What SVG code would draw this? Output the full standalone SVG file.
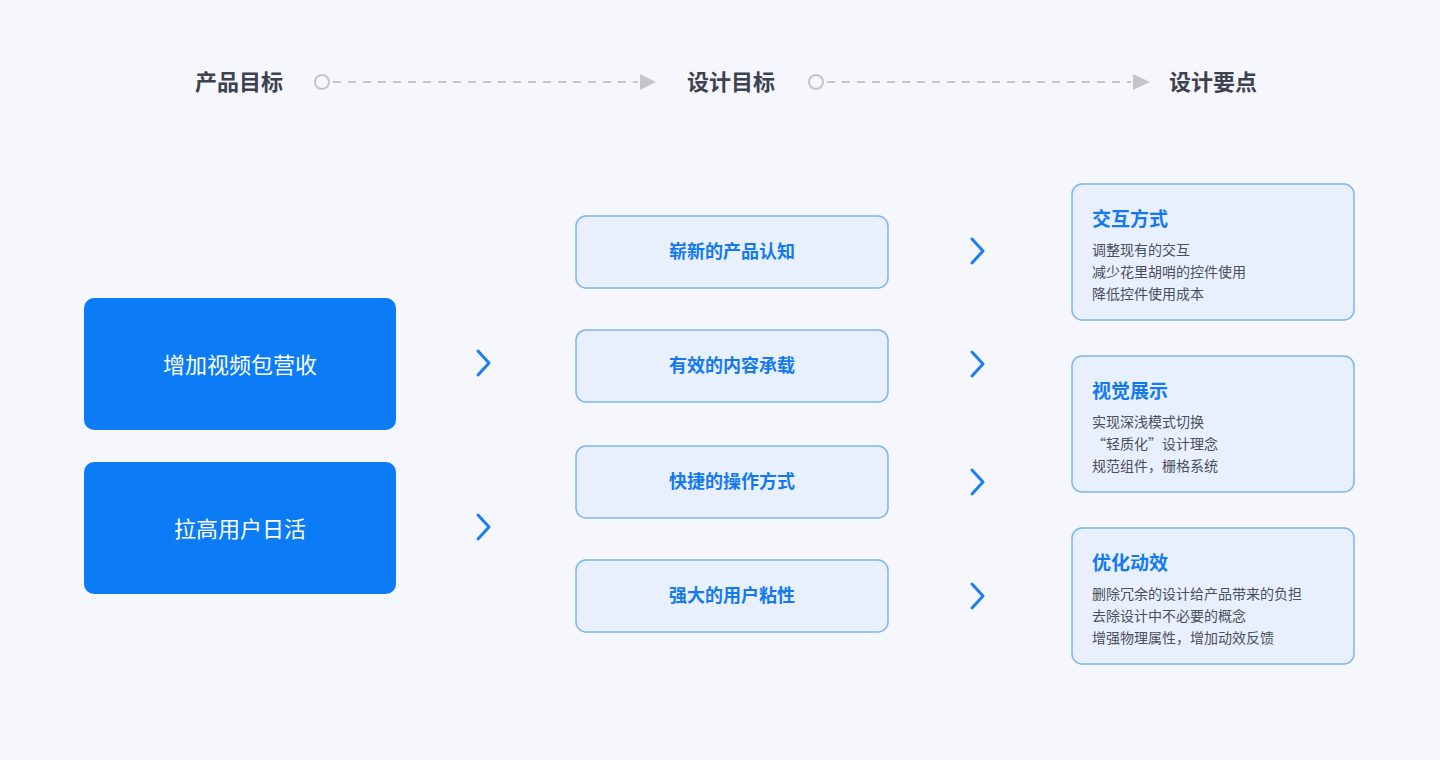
<svg xmlns="http://www.w3.org/2000/svg" width="1440" height="760" viewBox="0 0 1440 760">
<style>
text{font-family:"Noto Sans CJK SC","Noto Sans",sans-serif}
.hd{font-size:22px;font-weight:700;fill:#3d4250;text-anchor:middle}
.dash{stroke:#c3c5cc;stroke-width:2;stroke-dasharray:8 7;fill:none}
.ring{fill:#f5f7fd;stroke:#c3c5cc;stroke-width:2}
.tri{fill:#c3c5cc}
.big{fill:#0b7cf6}
.bt{font-size:22px;fill:#fff;text-anchor:middle}
.mid{fill:#e8f0fd;stroke:#7fb4f0;stroke-width:1.5}
.mt{font-size:18px;font-weight:700;fill:#1479ee;text-anchor:middle}
.ch{fill:none;stroke:#1a7ff5;stroke-width:3;stroke-linecap:round;stroke-linejoin:round}
.rt{font-size:19px;font-weight:700;fill:#1479ee}
.rl{font-size:14px;fill:#4a4f5c}
</style>
<rect width="1440" height="760" fill="#f5f7fd"/>
<g id="header">
<text class="hd" x="239" y="90">产品目标</text>
<text class="hd" x="731" y="90">设计目标</text>
<text class="hd" x="1213" y="90">设计要点</text>
</g>
<g id="connectors">
<circle class="ring" cx="322" cy="82" r="7"/>
<line class="dash" x1="333" y1="82" x2="638" y2="82"/>
<polygon class="tri" points="640,74 656,82 640,90"/>
<circle class="ring" cx="816" cy="82" r="7"/>
<line class="dash" x1="827" y1="82" x2="1131" y2="82"/>
<polygon class="tri" points="1133,74 1150,82 1133,90"/>
<polyline class="ch" points="478,351 489,363 478,375"/>
<polyline class="ch" points="478,515 489,527 478,539"/>
<polyline class="ch" points="972,239 983,251 972,263"/>
<polyline class="ch" points="972,352 983,364 972,376"/>
<polyline class="ch" points="972,470 983,482 972,494"/>
<polyline class="ch" points="972,584 983,596 972,608"/>
</g>
<g id="n1"><rect class="big" x="84" y="298" width="312" height="132" rx="10"/><text class="bt" x="240" y="373">增加视频包营收</text></g>
<g id="n2"><rect class="big" x="84" y="462" width="312" height="132" rx="10"/><text class="bt" x="240" y="537">拉高用户日活</text></g>
<g id="m1"><rect class="mid" x="576" y="216" width="312" height="72" rx="10"/><text class="mt" x="732" y="258">崭新的产品认知</text></g>
<g id="m2"><rect class="mid" x="576" y="330" width="312" height="72" rx="10"/><text class="mt" x="732" y="372">有效的内容承载</text></g>
<g id="m3"><rect class="mid" x="576" y="446" width="312" height="72" rx="10"/><text class="mt" x="732" y="488">快捷的操作方式</text></g>
<g id="m4"><rect class="mid" x="576" y="560" width="312" height="72" rx="10"/><text class="mt" x="732" y="602">强大的用户粘性</text></g>
<g id="r1"><rect class="mid" x="1072" y="184" width="282" height="136" rx="10"/>
<text class="rt" x="1092" y="226">交互方式</text>
<text class="rl" x="1092" y="255">调整现有的交互</text>
<text class="rl" x="1092" y="277">减少花里胡哨的控件使用</text>
<text class="rl" x="1092" y="299">降低控件使用成本</text></g>
<g id="r2"><rect class="mid" x="1072" y="356" width="282" height="136" rx="10"/>
<text class="rt" x="1092" y="398">视觉展示</text>
<text class="rl" x="1092" y="427">实现深浅模式切换</text>
<text class="rl" x="1092" y="449">“轻质化”设计理念</text>
<text class="rl" x="1092" y="471">规范组件，栅格系统</text></g>
<g id="r3"><rect class="mid" x="1072" y="528" width="282" height="136" rx="10"/>
<text class="rt" x="1092" y="570">优化动效</text>
<text class="rl" x="1092" y="599">删除冗余的设计给产品带来的负担</text>
<text class="rl" x="1092" y="621">去除设计中不必要的概念</text>
<text class="rl" x="1092" y="643">增强物理属性，增加动效反馈</text></g>
</svg>
